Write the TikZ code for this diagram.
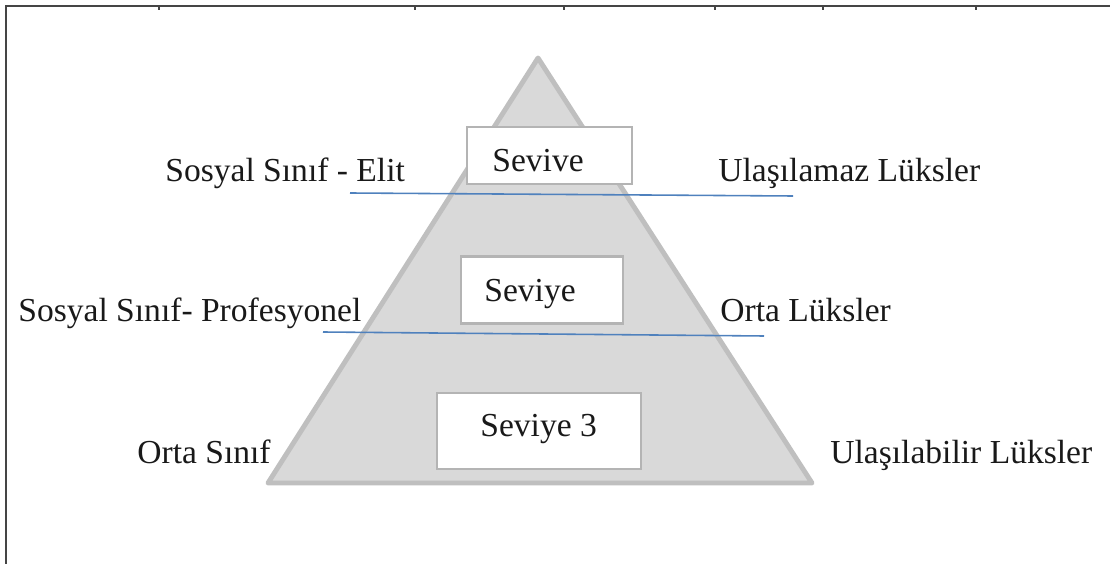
\documentclass[tikz,border=0pt]{standalone}
\usepackage{fontspec}
\setmainfont{Liberation Serif}
\usepackage{tikz}

\definecolor{piramit}{HTML}{D9D9D9}
\definecolor{piramitkenar}{HTML}{BFBFBF}
\definecolor{kutukenar}{HTML}{B4B4B4}
\definecolor{ayirici}{HTML}{4F81BD}
\definecolor{cerceve}{HTML}{454545}

\begin{document}
\begin{tikzpicture}[x=0.02cm, y=-0.02cm,
	yazi/.style={anchor=base west, inner sep=0pt, font=\fontsize{19.1}{23}\selectfont, text=black!90},
	kutu/.style={draw=kutukenar, line width=1.2pt, fill=white, inner sep=0pt},
	ayir/.style={draw=ayirici, line width=0.9pt}]
	\useasboundingbox (0,0) rectangle (1110,564);
	% cerceve
	\draw [cerceve, line width=1.6pt] (6,564) -- (6,6) -- (1110,6);
	\foreach \tx in {159,415,564,715,823,976}
		\draw [cerceve, line width=1.3pt] (\tx,6) -- (\tx,10);
	% piramit
	\draw [fill=piramit, draw=piramitkenar, line width=2.8pt, line join=round] (538,58) -- (812,483) -- (268,483) -- cycle;
	% seviye kutulari
	\node [kutu, minimum width=165*0.02cm, minimum height=57*0.02cm] (kutu1) at (549.5,155.5) {};
	\node [kutu, minimum width=162*0.02cm, minimum height=67*0.02cm] (kutu2) at (542,290) {};
	\node [kutu, minimum width=204*0.02cm, minimum height=76*0.02cm] (kutu3) at (539,431) {};
	\node [yazi] (sev1) at (492,172) {Sevive};
	\node [yazi] (sev2) at (484,302) {Seviye};
	\node [yazi] (sev3) at (480,437) {Seviye 3};
	% ayirici cizgiler
	\coordinate (a1) at (350,193);
	\coordinate (b1) at (793,196);
	\coordinate (a2) at (323,332);
	\coordinate (b2) at (764,336);
	\draw [ayir] (a1) -- (b1);
	\draw [ayir] (a2) -- (b2);
	% sinif ve luks etiketleri
	\node [yazi] (sinif1) at (165,182) {Sosyal Sınıf - Elit};
	\node [yazi] (sinif2) at (18,322) {Sosyal Sınıf- Profesyonel};
	\node [yazi] (sinif3) at (137,463) {Orta Sınıf};
	\node [yazi] (luks1) at (718,182) {Ulaşılamaz Lüksler};
	\node [yazi] (luks2) at (720,322) {Orta Lüksler};
	\node [yazi] (luks3) at (830,463) {Ulaşılabilir Lüksler};
\end{tikzpicture}
\end{document}
